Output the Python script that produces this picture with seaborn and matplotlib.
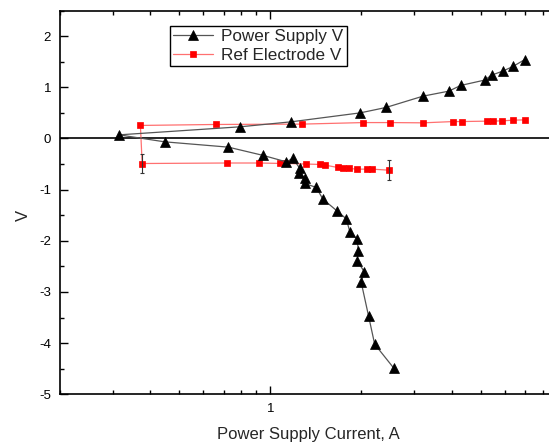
import matplotlib
matplotlib.use("Agg")
import matplotlib.pyplot as plt
import matplotlib.ticker as mticker
import numpy as np
import pandas as pd
import seaborn as sns

# ---- data (plot order) ----
ps_current = [6.98, 6.4, 5.93, 5.42, 5.14, 4.28, 3.91, 3.21, 2.42, 1.99, 1.174, 0.793,
              0.315, 0.446, 0.726, 0.945, 1.13, 1.188, 1.254, 1.248, 1.302, 1.302, 1.42,
              1.495, 1.66, 1.787, 1.836, 1.944, 1.959, 1.944, 2.05, 2.003, 2.118, 2.22, 2.57]
ps_voltage = [1.54, 1.41, 1.32, 1.236, 1.14, 1.035, 0.924, 0.826, 0.605, 0.50, 0.325, 0.227,
              0.07, -0.066, -0.17, -0.33, -0.457, -0.39, -0.586, -0.67, -0.78, -0.88, -0.957,
              -1.185, -1.41, -1.57, -1.82, -1.97, -2.2, -2.39, -2.605, -2.81, -3.465, -4.02, -4.49]

ref_current = [6.98, 6.4, 5.88, 5.47, 5.25, 4.31, 4.05, 3.22, 2.5, 2.035, 1.277, 0.66,
               0.371, 0.376, 0.72, 0.917, 1.076, 1.124, 1.31, 1.46, 1.514, 1.675, 1.745,
               1.823, 1.933, 2.098, 2.178, 2.474]
ref_voltage = [0.363, 0.357, 0.344, 0.338, 0.338, 0.33, 0.33, 0.305, 0.31, 0.31, 0.28, 0.273,
               0.254, -0.49, -0.48, -0.48, -0.488, -0.488, -0.50, -0.508, -0.52, -0.567, -0.574,
               -0.586, -0.6, -0.6, -0.6, -0.62]

err_current = [0.376, 2.474]
err_voltage = [-0.49, -0.62]
err_size = [0.19, 0.20]

series_labels = ["Power Supply V", "Ref Electrode V"]
xlabel = "Power Supply Current, A"
ylabel = "V"
x_tick_values = [1]
x_tick_labels = ["1"]

# ---- style ----
sns.set_style("ticks")
plt.rcParams['font.family'] = ['Liberation Sans', 'DejaVu Sans']
plt.rcParams['axes.unicode_minus'] = False

fig = plt.figure(figsize=(5.49, 4.45), dpi=100)
ax = fig.add_axes([0.1084, 0.1139, 0.9330, 0.8625])

ps_df = pd.DataFrame({"I": ps_current, "V": ps_voltage})
ref_df = pd.DataFrame({"I": ref_current, "V": ref_voltage})

ax.axhline(0, color="black", lw=1.2, zorder=1)

sns.lineplot(data=ps_df, x="I", y="V", sort=False, estimator=None, ax=ax,
             color="#555555", lw=0.9, marker="^", markersize=7,
             markerfacecolor="black", markeredgecolor="black", markeredgewidth=0.5,
             label=series_labels[0], zorder=3)
sns.lineplot(data=ref_df, x="I", y="V", sort=False, estimator=None, ax=ax,
             color="#ff7070", lw=0.9, marker="s", markersize=5,
             markerfacecolor="#ff0000", markeredgecolor="#ff0000", markeredgewidth=0.5,
             label=series_labels[1], zorder=2)

ax.errorbar(err_current, err_voltage, yerr=err_size, fmt="none", ecolor="#333333",
            elinewidth=0.8, capsize=1.5, capthick=0.8, zorder=4)

ax.set_xscale("log")
ax.set_xlim(0.2, 10)
ax.set_ylim(-5, 2.5)

ax.xaxis.set_major_locator(mticker.FixedLocator(x_tick_values))
ax.xaxis.set_major_formatter(mticker.FixedFormatter(x_tick_labels))
ax.xaxis.set_minor_locator(mticker.LogLocator(base=10, subs=np.arange(2, 10), numticks=10))
ax.xaxis.set_minor_formatter(mticker.NullFormatter())
ax.yaxis.set_major_locator(mticker.MultipleLocator(1))
ax.yaxis.set_minor_locator(mticker.MultipleLocator(0.5))

ax.tick_params(which="both", direction="in", top=True, right=False, width=1, color="black")
ax.tick_params(which="major", length=5.5, labelsize=9.5, pad=6, labelcolor="black")
ax.tick_params(which="minor", length=2.6)

for side in ["left", "bottom", "top"]:
    ax.spines[side].set_visible(True)
    ax.spines[side].set_linewidth(1.2)
    ax.spines[side].set_color("black")
ax.spines["right"].set_visible(False)

ax.set_xlabel(xlabel, fontsize=12)
ax.set_ylabel(ylabel, fontsize=12)
ax.xaxis.set_label_coords(0.486, -0.085)
ax.yaxis.set_label_coords(-0.055, 0.467)

leg = ax.legend(loc="upper left", bbox_to_anchor=(0.2157, 0.960), borderaxespad=0,
                fontsize=12.3, frameon=True, fancybox=False, framealpha=1,
                edgecolor="black", handlelength=2.3, handletextpad=0.5,
                borderpad=0.2, labelspacing=0.22)
leg.get_frame().set_linewidth(1.0)

fig.savefig("out.png", dpi=100)
